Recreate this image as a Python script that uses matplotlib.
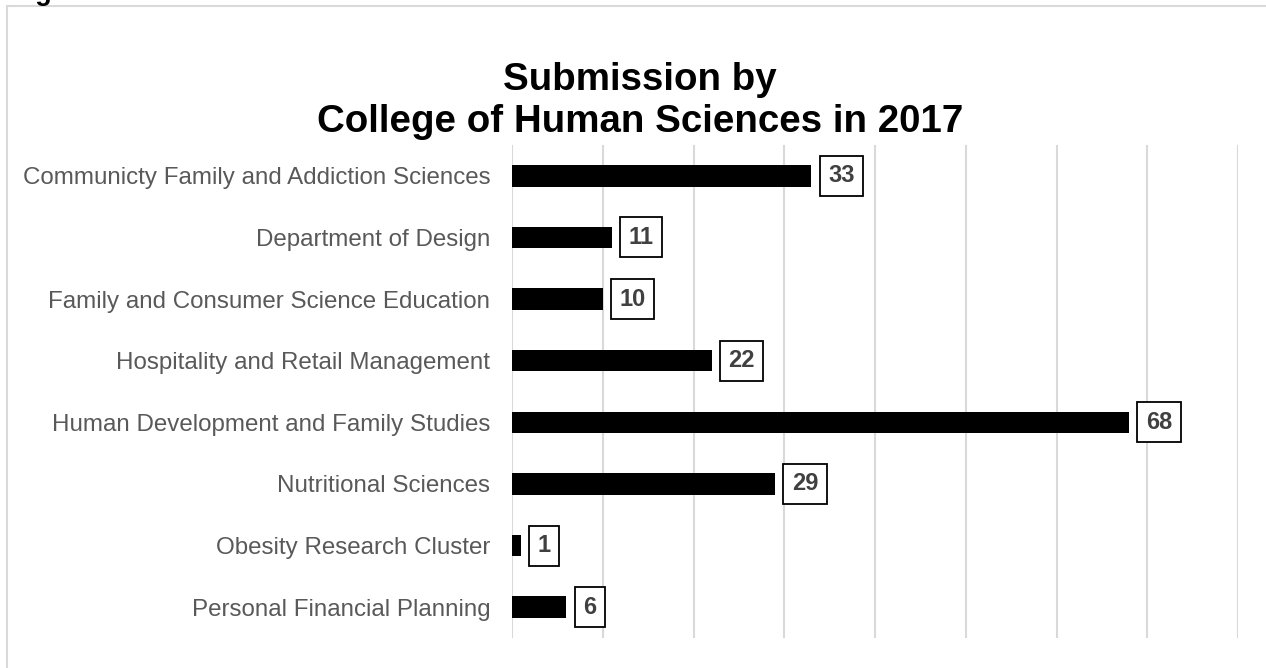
import matplotlib
matplotlib.use("Agg")
import matplotlib.pyplot as plt
from matplotlib.patches import Rectangle

plt.rcParams['font.family'] = ['Liberation Sans', 'DejaVu Sans']

# data
departments = [
    'Communicty Family and Addiction Sciences',
    'Department of Design',
    'Family and Consumer Science Education',
    'Hospitality and Retail Management',
    'Human Development and Family Studies',
    'Nutritional Sciences',
    'Obesity Research Cluster',
    'Personal Financial Planning',
]
submissions = [33, 11, 10, 22, 68, 29, 1, 6]
x_ticks = [0, 10, 20, 30, 40, 50, 60, 70, 80]

fig = plt.figure(figsize=(12.66, 6.68), dpi=100)
ax = fig.add_axes([512 / 1266, 1 - 638 / 668, (1238 - 512) / 1266, (638 - 145) / 668])

# chart frame (runs off the page on the right and bottom)
fig.patches.append(Rectangle((7 / 1266, -0.1), 1.2, 1 - 6 / 668 + 0.1,
                             transform=fig.transFigure, fill=False,
                             edgecolor='#d9d9d9', linewidth=1.5))
# caption above the chart, mostly cut off by the page edge
fig.text(11 / 1266, 1 + 0.5 / 668, 'Figure 8', fontsize=19.5, fontweight='bold',
         va='baseline', ha='left', color='black')

pos = list(range(len(departments)))
ax.barh(pos, submissions, height=0.35, color='black')

for y, v in zip(pos, submissions):
    ax.annotate(str(v), xy=(v, y), xytext=(12, 0), textcoords='offset points',
                ha='left', va='center', fontsize=17, fontweight='bold', color='#404040',
                bbox=dict(boxstyle='square,pad=0.36', facecolor='white',
                          edgecolor='black', linewidth=1.3))

ax.set_xlim(0, 80)
ax.set_ylim(len(departments) - 0.5, -0.5)
ax.set_xticks(x_ticks)
ax.set_xticklabels([])
ax.tick_params(axis='x', length=0)
ax.tick_params(axis='y', length=0, pad=15.5)
ax.set_yticks(pos)
ax.set_yticklabels(departments, fontsize=17.4, color='#595959')
ax.grid(axis='x', color='#d9d9d9', linewidth=1.5)
ax.set_axisbelow(True)
for s in ax.spines.values():
    s.set_visible(False)

fig.text(640 / 1266, 1 - 101 / 668, 'Submission by\nCollege of Human Sciences in 2017',
         ha='center', va='center', fontsize=27.7, fontweight='bold',
         linespacing=1.2, color='black')

fig.savefig('out.png', dpi=100)
